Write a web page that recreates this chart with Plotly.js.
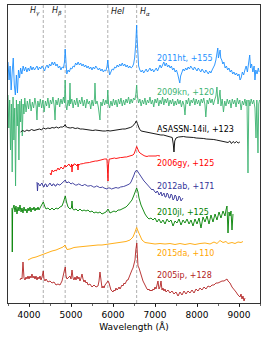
<!DOCTYPE html>
<html><head><meta charset="utf-8">
<script src="https://cdn.plot.ly/plotly-3.0.1.min.js"></script>
<style>html,body{margin:0;padding:0;background:#fff}#chart{width:266px;height:337px}</style>
</head><body><div id="chart"></div>
<script>
// Spectra: wavelength (Å) and scaled flux + offset (arbitrary units)
const wl_2011ht = [3500,3525,3550,3575,3600,3625,3650,3675,3700,3725,3750,3775,3800,3830,3860,3890,3920,3950,3980,4010,4040,4070,4100,4130,4160,4190,4220,4250,4280,4310,4340,4370,4400,4430,4460,4490,4520,4550,4580,4610,4640,4670,4700,4730,4760,4790,4820,4845,4861,4877,4900,4930,4960,4990,5020,5050,5080,5110,5140,5170,5200,5230,5260,5290,5320,5350,5380,5410,5440,5470,5500,5530,5560,5590,5620,5650,5680,5710,5740,5770,5800,5830,5860,5876,5895,5920,5950,5980,6010,6040,6070,6100,6130,6160,6190,6220,6250,6280,6310,6340,6370,6400,6430,6460,6490,6515,6540,6555,6563,6570,6585,6610,6640,6670,6700,6730,6760,6790,6820,6850,6880,6910,6940,6970,7000,7030,7060,7090,7120,7150,7180,7210,7240,7270,7300,7330,7360,7390,7420,7450,7480,7510,7540,7570,7590,7610,7640,7670,7700,7730,7760,7790,7820,7850,7880,7910,7940,7970,8000,8030,8060,8090,8120,8150,8180,8210,8240,8270,8300,8330,8360,8390,8420,8450,8475,8495,8510,8530,8550,8565,8590,8615,8640,8670,8700,8730,8760,8790,8820,8850,8880,8910,8940,8970,9000,9025,9050,9080,9110,9140,9170,9200,9230,9255,9275,9300,9330,9360,9380,9400,9430,9460,9480];
const fx_2011ht = [23.8,22.0,23.4,21.0,22.8,24.2,21.5,20.5,22.5,20.7,23.0,22.2,23.2,22.6,23.4,22.9,23.3,22.8,23.2,22.9,23.4,23.0,23.3,23.0,23.2,23.4,23.0,23.3,23.1,23.4,23.2,22.9,23.3,23.5,23.2,23.6,23.4,23.8,23.5,23.8,23.4,23.6,23.2,23.4,23.0,23.3,23.2,23.8,25.1,23.6,22.6,23.0,22.8,23.2,23.1,23.4,23.3,23.7,23.5,23.8,23.5,23.7,23.4,23.6,23.3,23.5,23.2,23.4,23.1,23.3,23.0,23.3,23.1,23.4,23.2,23.0,23.2,22.9,23.1,22.8,23.0,22.9,23.4,24.0,23.2,22.5,22.8,23.1,23.0,23.3,23.2,23.5,23.3,23.6,23.4,23.7,23.4,23.6,23.3,23.5,23.2,23.4,23.2,23.3,23.6,24.2,25.5,27.2,27.5,26.5,24.5,23.4,23.0,22.8,23.0,22.7,22.9,23.1,22.8,23.0,23.2,22.9,23.1,22.8,23.0,23.2,22.9,23.3,23.5,23.2,23.6,23.8,23.4,23.7,23.3,23.5,23.2,23.4,23.0,23.2,22.8,23.0,22.6,22.2,21.7,22.4,22.8,23.1,22.9,23.2,23.0,23.3,23.1,23.4,23.2,23.0,23.3,23.1,22.9,23.2,23.0,22.8,23.1,22.9,22.7,23.0,22.8,22.6,22.9,22.7,23.0,23.2,23.5,24.0,24.8,25.2,24.2,24.6,25.0,24.2,24.0,23.6,23.8,23.2,23.4,23.0,23.2,22.8,23.0,22.6,22.8,22.5,22.7,22.4,22.6,22.0,22.2,22.8,22.5,23.0,23.4,22.8,23.8,24.5,23.2,23.6,22.8,23.4,22.0,23.0,22.6,23.2,22.8];

const wl_2009kn = [3500,3520,3540,3560,3580,3600,3620,3640,3660,3680,3700,3720,3740,3760,3780,3800,3820,3840,3860,3880,3900,3930,3960,3990,4020,4050,4080,4110,4140,4170,4190,4210,4240,4270,4300,4330,4360,4390,4420,4450,4480,4510,4540,4570,4600,4620,4640,4670,4700,4730,4760,4790,4820,4845,4861,4877,4900,4930,4960,4976,4990,5020,5050,5080,5110,5140,5170,5200,5230,5260,5290,5320,5350,5380,5410,5440,5470,5500,5530,5560,5571,5590,5620,5650,5690,5710,5740,5770,5800,5830,5860,5876,5895,5920,5950,5980,6010,6040,6070,6100,6130,6160,6190,6220,6250,6280,6310,6340,6370,6400,6430,6460,6490,6520,6545,6563,6580,6610,6640,6670,6700,6730,6760,6790,6820,6850,6880,6910,6940,6970,7000,7030,7060,7090,7120,7150,7180,7210,7240,7270,7300,7330,7360,7390,7420,7450,7480,7510,7540,7570,7600,7630,7660,7690,7714,7740,7770,7800,7830,7860,7890,7920,7950,7980,8010,8040,8070,8100,8130,8160,8190,8210,8240,8270,8300,8330,8360,8390,8420,8450,8475,8500,8530,8548,8570,8600,8630,8660,8690,8720,8750,8780,8810,8840,8870,8900,8930,8960,8990,9020,9050,9080,9110,9140,9170,9190,9214,9235,9260,9290,9320,9350,9380,9405,9425,9452,9470,9490];
const fx_2009kn = [20.5,17.2,20.0,15.0,19.6,12.8,20.3,16.0,19.2,11.4,20.0,17.4,19.6,14.0,19.9,17.8,20.1,16.4,19.6,18.6,20.2,18.8,19.9,19.1,20.1,18.9,19.8,19.2,20.2,19.4,18.0,19.9,19.3,20.1,19.2,20.0,18.8,19.9,19.4,20.2,19.2,20.0,19.6,20.3,19.4,18.0,20.0,19.5,20.2,19.3,20.1,19.6,20.3,19.7,22.0,19.6,19.0,20.0,19.4,21.7,19.6,20.1,19.2,20.0,19.5,20.2,19.3,20.0,19.6,20.3,19.4,20.0,19.2,20.1,19.6,19.9,19.1,20.0,19.4,20.2,21.7,19.6,19.9,19.3,18.0,19.8,19.4,20.1,19.5,20.0,19.6,21.0,19.6,19.2,19.9,19.4,20.1,19.5,20.0,19.3,20.1,19.6,20.2,19.4,20.0,19.5,20.1,19.7,20.3,19.6,20.1,19.7,20.2,20.0,20.6,21.5,20.4,19.7,20.1,19.4,20.0,19.6,20.2,19.5,20.0,19.7,20.3,19.6,20.0,19.3,20.1,19.7,20.2,19.4,20.0,19.6,20.3,19.5,20.1,19.7,20.2,19.4,20.0,19.6,20.1,19.4,19.9,19.5,20.1,19.6,20.0,19.3,19.9,19.5,18.5,20.0,19.6,20.2,19.4,20.0,19.7,20.2,19.5,20.1,19.6,20.0,19.4,20.1,19.7,20.2,19.5,18.3,20.0,19.6,20.2,19.7,20.1,19.5,20.0,20.4,21.3,19.6,20.4,21.0,19.4,20.1,18.8,19.9,19.4,20.1,19.6,20.0,19.2,20.1,19.6,20.0,19.3,20.2,19.6,20.0,19.0,19.9,19.5,20.1,19.4,20.0,12.7,20.0,19.4,20.1,19.6,20.0,19.2,16.2,20.0,14.7,19.6,20.0];

const wl_asassn14il = [3800,3850,3900,3950,4000,4060,4120,4180,4250,4300,4340,4400,4450,4500,4550,4600,4650,4700,4750,4800,4840,4861,4880,4920,4980,5040,5100,5160,5220,5280,5340,5400,5460,5520,5580,5640,5700,5760,5820,5876,5930,5990,6050,6110,6170,6230,6290,6350,6410,6460,6500,6530,6550,6563,6580,6600,6630,6670,6720,6780,6840,6900,6960,7020,7080,7140,7200,7260,7320,7370,7410,7435,7452,7470,7500,7560,7620,7680,7740,7800,7860,7920,7980,8040,8100,8160,8220,8280,8340,8400,8460,8520,8580,8640,8700,8740,8780,8820,8860,8900,8940,8980,9020];
const fx_asassn14il = [16.8,16.95,16.85,17.0,16.9,17.05,16.95,17.05,17.1,17.0,17.2,17.1,17.2,17.15,17.25,17.2,17.3,17.2,17.3,17.3,17.4,17.55,17.35,17.25,17.2,17.25,17.15,17.2,17.1,17.1,17.05,17.0,17.0,16.95,17.0,16.95,16.95,16.9,16.9,16.95,16.9,16.95,17.0,17.0,17.05,17.1,17.1,17.15,17.25,17.35,17.5,17.7,17.9,17.85,17.65,17.35,17.1,16.9,16.85,16.8,16.75,16.7,16.65,16.6,16.55,16.5,16.5,16.45,16.35,16.3,16.25,15.6,14.8,15.9,16.2,16.3,16.35,16.35,16.3,16.3,16.25,16.25,16.2,16.2,16.15,16.15,16.1,16.1,16.05,16.05,16.0,15.95,15.95,15.9,15.85,15.75,15.9,15.65,15.85,15.7,15.85,15.7,15.8];

const wl_2006gy = [4500,4525,4548,4580,4619,4650,4690,4720,4762,4790,4810,4835,4857,4880,4905,4930,4952,4975,5000,5015,5024,5035,5048,5070,5095,5120,5143,5155,5167,5180,5190,5225,5262,5300,5333,5370,5405,5440,5476,5510,5548,5580,5619,5655,5690,5725,5762,5800,5833,5855,5869,5881,5893,5910,5929,5965,6000,6035,6071,6107,6143,6180,6214,6250,6286,6320,6357,6393,6429,6455,6476,6500,6524,6545,6563,6578,6595,6620,6643,6680,6714,6760,6810,6845,6881,6915,6952,6990,7024,7060,7095,7119];
const fx_2006gy = [12.7,12.5,13.0,12.8,13.0,12.9,13.2,13.0,13.3,13.2,13.1,13.3,13.5,13.3,13.4,13.5,13.6,13.4,13.3,13.6,12.8,13.5,13.4,13.6,13.6,13.5,13.4,13.6,13.0,13.6,13.5,13.6,13.6,13.65,13.7,13.7,13.7,13.75,13.8,13.85,13.9,13.9,13.9,13.95,14.0,14.05,14.1,14.1,14.1,14.1,13.0,11.9,13.5,14.1,14.1,14.15,14.2,14.2,14.15,14.2,14.2,14.25,14.25,14.3,14.3,14.3,14.35,14.35,14.4,14.45,14.5,14.6,14.8,15.1,15.35,15.15,15.0,14.8,14.7,14.55,14.5,14.4,14.35,14.4,14.4,14.35,14.35,14.4,14.4,14.45,14.45,14.4];

const wl_2012ab = [4190,4202,4214,4238,4262,4286,4310,4333,4357,4381,4405,4428,4452,4476,4500,4524,4548,4571,4595,4619,4643,4666,4690,4714,4738,4762,4786,4810,4833,4864,4885,4905,4930,4952,4976,5000,5035,5071,5107,5143,5178,5214,5250,5286,5320,5357,5393,5429,5465,5500,5535,5571,5607,5643,5680,5714,5750,5786,5820,5857,5893,5929,5965,6000,6035,6071,6107,6143,6180,6214,6250,6286,6320,6357,6393,6429,6452,6476,6500,6524,6545,6563,6580,6595,6620,6643,6667,6690,6714,6738,6762,6786,6810,6833,6857,6881,6905,6929,6952,6976,7000,7024,7048,7071,7095,7119,7143,7167,7190,7214,7238,7262,7286,7310,7333,7357,7381,7405,7428,7452,7476,7500,7524,7548,7571,7595,7619,7643,7667];
const fx_2012ab = [11.8,10.9,11.7,11.5,11.4,11.6,11.7,11.4,11.3,11.6,11.6,11.3,11.4,11.6,11.7,11.5,11.4,11.6,11.6,11.4,11.4,11.6,11.6,11.5,11.5,11.6,11.7,11.8,11.9,12.0,11.8,11.7,11.8,11.8,11.7,11.6,11.7,11.6,11.5,11.5,11.6,11.55,11.45,11.45,11.55,11.5,11.4,11.4,11.45,11.4,11.3,11.3,11.4,11.35,11.25,11.25,11.3,11.2,11.15,11.1,11.2,11.2,11.1,11.15,11.2,11.25,11.2,11.2,11.3,11.3,11.35,11.4,11.45,11.5,11.6,11.8,12.0,12.2,12.5,12.8,12.95,13.0,12.9,12.8,12.6,12.4,12.25,12.1,12.0,11.9,11.8,11.7,11.6,11.5,11.4,11.3,11.2,11.0,11.1,10.9,10.8,10.7,10.9,10.8,10.5,10.6,10.8,10.4,10.6,10.7,10.3,10.3,10.7,10.6,10.2,10.2,10.6,10.5,10.0,10.1,10.5,10.4,9.9,10.0,10.4,10.3,9.9,10.0,10.2];

const wl_2010jl = [3595,3602,3610,3643,3667,3690,3714,3738,3762,3786,3810,3833,3857,3881,3905,3929,3952,3976,4000,4024,4048,4071,4095,4119,4143,4167,4190,4214,4238,4262,4286,4310,4340,4381,4405,4452,4500,4548,4595,4643,4690,4738,4786,4821,4845,4864,4893,4929,4976,5010,5024,5040,5071,5119,5167,5214,5262,5310,5357,5405,5452,5500,5548,5595,5643,5690,5738,5786,5833,5881,5929,5976,6024,6071,6119,6167,6214,6262,6310,6357,6405,6452,6500,6536,6563,6595,6619,6667,6714,6762,6810,6857,6905,6952,7000,7048,7095,7143,7190,7238,7286,7333,7381,7429,7476,7524,7571,7619,7667,7714,7762,7810,7857,7905,7952,8000,8048,8095,8143,8190,8238,8286,8333,8381,8429,8476,8524,8571,8619,8667,8690,8714,8738,8762,8786,8810,8833,8857];
const fx_2010jl = [9.2,4.8,9.0,9.5,8.8,9.4,8.6,9.3,8.9,9.5,8.8,9.2,8.7,9.3,8.9,9.1,8.7,9.2,8.9,9.3,8.8,9.2,9.0,9.3,8.9,9.2,9.0,9.3,9.0,9.2,9.4,9.6,9.8,9.3,9.1,9.2,9.0,9.2,9.0,9.2,9.1,9.3,9.4,9.8,10.3,10.4,9.8,9.3,9.1,9.2,9.9,9.1,9.0,9.1,8.9,9.1,8.9,9.0,8.9,9.0,8.8,8.9,8.7,8.8,8.7,8.8,8.6,8.7,8.8,9.1,8.7,8.8,8.9,8.8,9.0,9.0,9.1,9.2,9.3,9.5,9.7,10.0,10.5,11.0,11.2,10.8,10.2,9.5,9.0,8.6,8.3,8.1,8.2,8.0,8.2,7.8,8.1,7.7,8.0,7.6,8.1,7.8,8.0,7.4,7.9,7.7,8.1,7.5,8.0,7.7,8.1,7.6,8.0,7.4,8.1,7.6,8.2,7.2,8.3,7.8,8.4,7.6,8.5,7.8,8.6,8.0,8.8,8.2,8.9,8.4,9.0,9.4,6.7,8.8,8.4,8.9,7.0,8.6];

const wl_2015da = [3976,4071,4167,4262,4357,4452,4548,4643,4738,4810,4857,4881,4905,4976,5071,5167,5262,5357,5452,5548,5643,5738,5833,5929,6024,6119,6214,6310,6405,6476,6524,6563,6595,6643,6690,6762,6881,7000,7119,7238,7357,7476,7595,7714,7833,7952,8071,8190,8310,8405,8476,8548,8619,8690,8738,8833,8905,8976,9048,9095];
const fx_2015da = [4.0,4.2,4.3,4.45,4.6,4.8,4.9,5.0,5.15,5.3,5.5,5.3,5.05,5.1,5.25,5.3,5.35,5.35,5.4,5.45,5.5,5.5,5.55,5.6,5.65,5.7,5.75,5.85,6.0,6.3,6.8,7.25,6.9,6.4,6.0,5.75,5.65,5.6,5.65,5.6,5.65,5.55,5.65,5.55,5.65,5.55,5.65,5.7,5.6,5.8,5.65,5.95,5.75,5.85,5.65,5.75,5.65,5.8,5.75,5.85];

const wl_2005ip = [3786,3810,3833,3857,3881,3905,3929,3952,3976,4000,4024,4048,4071,4095,4119,4143,4167,4190,4214,4238,4262,4286,4310,4340,4357,4381,4405,4452,4500,4548,4595,4643,4690,4738,4786,4821,4845,4864,4881,4905,4940,4976,5000,5024,5048,5071,5095,5119,5143,5167,5190,5214,5238,5262,5286,5310,5333,5357,5381,5405,5452,5500,5548,5595,5643,5667,5690,5714,5738,5762,5786,5810,5833,5857,5881,5905,5929,5952,5976,6000,6024,6048,6071,6095,6119,6143,6167,6190,6214,6238,6262,6286,6310,6333,6357,6381,6405,6429,6452,6476,6500,6524,6543,6558,6567,6581,6595,6619,6643,6667,6690,6714,6738,6762,6786,6810,6833,6857,6881,6905,6929,6952,6976,7000,7024,7048,7071,7095,7119,7143,7167,7190,7214,7238,7262,7310,7357,7405,7452,7500,7548,7595,7643,7690,7738,7786,7833,7881,7929,7976,8024,8071,8119,8167,8214,8262,8310,8357,8405,8452,8500,8548,8595,8643,8690,8714,8738,8786,8833,8881,8929,8976,9024,9048,9071,9095,9119,9143];
const fx_2005ip = [2.0,2.2,2.1,3.8,2.2,2.0,2.3,2.1,2.4,2.1,2.4,2.2,2.6,2.2,2.4,2.1,2.4,2.0,2.3,2.1,2.4,2.0,2.3,2.9,2.1,1.9,2.1,1.8,1.9,1.7,1.8,1.5,1.6,1.5,1.9,2.4,3.0,3.3,2.4,2.1,2.3,2.4,2.1,3.0,2.2,2.0,2.3,2.0,2.4,2.1,2.3,1.9,2.2,2.6,2.1,1.8,2.0,1.7,1.8,1.5,1.6,1.3,1.5,1.3,1.4,1.9,2.8,1.8,1.2,1.4,1.2,1.5,1.6,1.8,1.9,1.7,1.3,1.0,0.9,0.8,1.0,0.9,1.2,1.0,1.1,1.3,1.1,1.3,1.5,1.4,1.7,1.6,1.8,2.0,2.0,2.3,2.4,2.7,3.0,3.2,3.5,4.0,5.0,5.6,5.7,4.5,3.4,3.2,2.8,2.5,2.2,1.9,1.7,1.4,1.3,1.1,1.0,1.1,0.9,1.0,0.9,1.1,1.0,1.3,1.1,1.5,1.9,1.1,1.3,1.9,1.0,1.2,0.9,1.1,0.8,1.0,0.7,0.9,0.6,0.8,0.4,0.8,0.5,0.9,0.6,0.9,0.7,1.0,0.7,1.1,0.9,1.2,1.0,1.3,1.1,1.4,1.3,1.5,1.5,1.7,1.7,1.8,1.9,1.9,2.0,2.1,1.9,1.7,1.3,1.1,0.8,0.5,0.3,0.6,0.1,0.4,-0.1,0.2];

const names = ['2011ht, +155','2009kn, +120','ASASSN-14il, +123','2006gy, +125','2012ab, +171','2010jl, +125','2015da, +110','2005ip, +128'];
const colors = ['#1e90ff','#3cb371','#000000','#ff0000','#333399','#008000','#ffa500','#b22222'];
const labelY = [24.2,20.8,17.1,13.7,11.35,8.75,4.7,2.5];
const labelX = 7000;

const lineWl = [4340,4861,5876,6563];
const lineNames = ['<i>H<sub>γ</sub></i>','<i>H<sub>β</sub></i>','<i>HeI</i>','<i>H<sub>α</sub></i>'];
const lineSide = ['right','right','left','left'];

const wls = [wl_2011ht,wl_2009kn,wl_asassn14il,wl_2006gy,wl_2012ab,wl_2010jl,wl_2015da,wl_2005ip];
const fxs = [fx_2011ht,fx_2009kn,fx_asassn14il,fx_2006gy,fx_2012ab,fx_2010jl,fx_2015da,fx_2005ip];

const traces = wls.map((w,i)=>({x:w,y:fxs[i],type:'scatter',mode:'lines',line:{color:colors[i],width:0.9},hoverinfo:'skip'}));

const shapes = lineWl.map(w=>({type:'line',xref:'x',yref:'paper',x0:w,x1:w,y0:0,y1:1,layer:'below',line:{color:'#9a9a9a',width:0.8,dash:'3px,2px'}}));

const annotations = names.map((n,i)=>({x:labelX,y:labelY[i],xref:'x',yref:'y',text:n,showarrow:false,xanchor:'left',yanchor:'middle',font:{size:8,color:colors[i],family:'DejaVu Sans'}}))
 .concat(lineWl.map((w,i)=>({x:w,y:0.977,xref:'x',yref:'paper',text:lineNames[i],showarrow:false,xanchor:lineSide[i],yanchor:'middle',xshift:lineSide[i]==='right'?-1:1,font:{size:8,color:'#222',family:'DejaVu Sans'}})));

const layout = {
  width:266,height:337,
  margin:{l:8,r:6,t:5,b:34},
  paper_bgcolor:'white',plot_bgcolor:'white',showlegend:false,
  font:{family:'DejaVu Sans',size:9,color:'black'},
  xaxis:{range:[3500,9500],tickvals:[4000,5000,6000,7000,8000,9000],ticktext:['4000','5000','6000','7000','8000','9000'],
    ticks:'outside',ticklen:3.5,tickwidth:0.8,tickcolor:'black',showline:true,mirror:true,linecolor:'black',linewidth:0.8,
    showgrid:false,zeroline:false,tickfont:{size:9},
    minor:{dtick:500,tick0:0,ticks:'outside',ticklen:2,tickwidth:0.6,tickcolor:'black',showgrid:false},
    title:{text:'Wavelength (Å)',font:{size:9},standoff:4}},
  yaxis:{range:[-0.3,29.5],showticklabels:false,ticks:'',showline:true,mirror:true,linecolor:'black',linewidth:0.8,showgrid:false,zeroline:false},
  shapes:shapes,annotations:annotations
};
Plotly.newPlot('chart',traces,layout,{staticPlot:true,displayModeBar:false});
</script></body></html>
